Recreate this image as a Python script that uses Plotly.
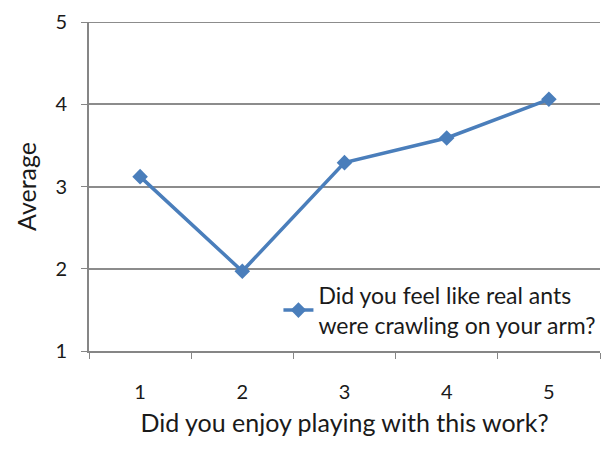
import plotly.graph_objects as go

categories = ["1", "2", "3", "4", "5"]
averages = [3.12, 1.97, 3.29, 3.59, 4.06]
series_name = "Did you feel like real ants<br>were crawling on your arm?"
y_ticks = [1, 2, 3, 4, 5]

fig = go.Figure()
fig.add_trace(go.Scatter(
    x=categories, y=averages, mode="lines+markers", name=series_name,
    line=dict(color="#4A7EBB", width=3.5),
    marker=dict(symbol="diamond", size=12, color="#4A7EBB"),
))

# top gridline (plotly omits the gridline at the range edge)
fig.add_shape(type="line", xref="paper", yref="y", x0=0, x1=1,
              y0=y_ticks[-1], y1=y_ticks[-1],
              line=dict(color="#8C8C8C", width=2), layer="below")

font_family = "Lato, 'Open Sans', sans-serif"
fig.update_layout(
    width=606, height=453,
    margin=dict(l=89, r=5, t=22, b=102),
    paper_bgcolor="white", plot_bgcolor="white",
    font=dict(family=font_family, color="#1A1A1A", size=20),
    showlegend=True,
    legend=dict(x=0.37, y=0.235, xanchor="left", yanchor="top",
                bgcolor="rgba(255,255,255,0)", font=dict(size=23),
                itemwidth=30, tracegroupgap=0),
    xaxis=dict(
        type="category", tickson="boundaries", ticks="outside", ticklen=6,
        tickcolor="#868686", showline=True, linecolor="#868686", linewidth=2,
        showgrid=False, range=[-0.5, 4.5], ticklabelstandoff=22,
        tickfont=dict(size=20),
        title=dict(text="Did you enjoy playing with this work?", font=dict(size=25), standoff=12),
    ),
    yaxis=dict(
        range=[1, 5], tickvals=y_ticks, ticks="outside", ticklen=6,
        tickcolor="#868686", showline=True, linecolor="#868686", linewidth=2,
        showgrid=True, gridcolor="#8C8C8C", gridwidth=2, zeroline=False,
        tickfont=dict(size=20), ticklabelstandoff=10,
        title=dict(text="Average", font=dict(size=25), standoff=12),
    ),
)

fig.write_html("out.html")
